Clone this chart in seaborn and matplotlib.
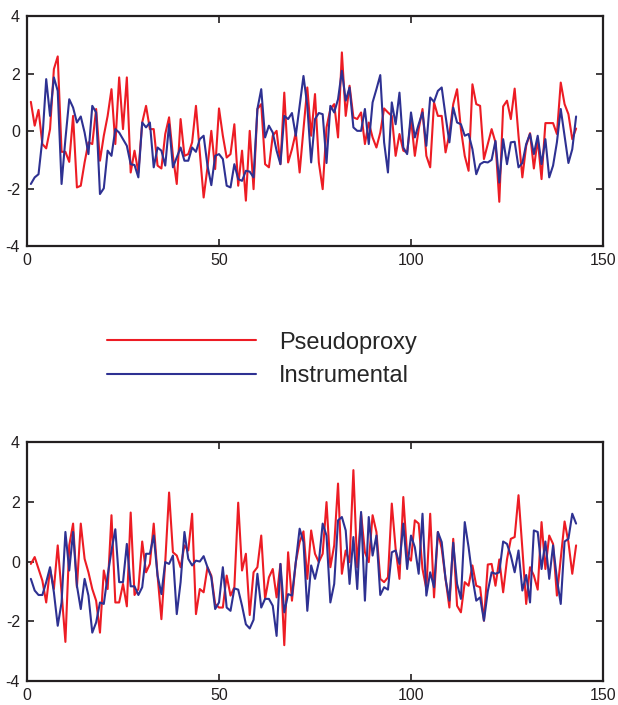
import numpy as np
import pandas as pd
import matplotlib
matplotlib.use('Agg')
import matplotlib.pyplot as plt
import seaborn as sns

# Values (years 1..143)
years = list(range(1, 144))

top_pseudoproxy = [
    1.02, 0.19, 0.74, -0.45, -0.6, 0.07, 2.16, 2.6, -0.72, -0.72,
    -1.07, 0.53, -1.96, -1.9, -1.09, -0.39, -0.45, 0.77, -1.03, -0.16,
    0.53, 1.46, -0.45, 1.87, 0.07, 1.87, -1.44, -0.68, -1.44, 0.3,
    0.88, 0.07, 0.07, -1.2, -1.3, -0.1, 0.48, -0.86, -1.84, 0.42,
    -0.86, -0.8, -0.39, 0.88, -0.74, -2.31, -1.26, 0.01, -1.32, 0.79,
    -0.16, -0.92, -0.8, 0.24, -1.9, -0.68, -2.42, 0.01, -2.02, 0.77,
    0.94, -1.15, -1.26, -0.16, 0.01, -1.15, 1.34, -1.09, -0.63, -0.05,
    -1.44, 0.07, 1.52, -0.16, 1.29, -1.09, -2.02, 0.13, 0.77, 0.94,
    -0.22, 2.74, 0.53, 1.58, 0.48, 0.42, 0.65, -0.45, 0.3, -0.22,
    -0.57, -0.05, 0.79, 0.65, 0.53, -0.86, -0.1, -0.68, -0.74, 0.42,
    -0.86, 0.07, 0.77, -0.86, -1.26, 1.0, 0.53, 0.53, -0.74, -0.1,
    0.94, 1.46, 0.07, -0.86, -1.38, 1.63, 0.94, 0.88, -0.97, -0.45,
    0.07, -0.39, -2.46, 0.86, 1.06, 0.42, 1.48, -0.16, -1.61, -0.51,
    -0.07, -1.3, -0.28, -1.67, 0.28, 0.28, 0.28, -0.1, 1.69, 0.94,
    0.59, -0.28, 0.09]

top_instrumental = [
    -1.84, -1.61, -1.5, -0.28, 1.81, 0.53, 1.87, 1.4, -1.84, -0.28,
    1.11, 0.82, 0.3, 0.51, -0.05, -0.8, 0.88, 0.65, -2.19, -1.99,
    -0.68, -0.86, 0.07, -0.05, -0.28, -0.51, -1.15, -1.18, -1.61, 0.3,
    0.13, 0.3, -1.26, -0.57, -0.68, -1.2, 0.24, -1.26, -0.92, -0.57,
    -1.03, -1.03, -0.57, -0.72, -0.28, -0.16, -1.2, -1.88, -0.86, -0.8,
    -0.97, -1.9, -1.96, -1.15, -1.67, -1.73, -1.38, -1.41, -1.61, 0.77,
    1.46, -0.22, 0.19, -0.05, -0.68, -1.15, 0.53, 0.42, 0.63, -0.16,
    0.88, 1.92, 0.88, -1.09, 0.42, 0.63, 0.59, -1.11, 0.88, 0.65,
    1.11, 2.1, 1.06, 1.52, 0.13, 0.01, 0.01, 0.77, -0.45, 1.0,
    1.46, 1.95, -0.39, -1.44, 1.0, 0.24, 1.34, -0.57, -0.8, 0.65,
    -0.22, 0.24, 0.65, -0.51, 1.17, 1.02, 1.4, 1.52, 0.53, -0.39,
    0.82, 0.3, 0.24, -0.16, -0.1, -0.63, -1.5, -1.15, -1.07, -1.09,
    -1.0, -0.34, -1.79, -0.28, -1.15, -0.39, -0.37, -1.26, -1.11, -0.45,
    -0.1, -0.8, -0.16, -1.15, -0.28, -1.61, -1.2, -0.39, 0.77, -0.16,
    -1.11, -0.63, 0.51]

bottom_pseudoproxy = [
    -0.08, 0.15, -0.25, -0.64, -1.37, -0.25, -0.92, 0.54, -1.03, -2.69,
    0.54, 1.27, -0.86, 1.27, 0.09, -0.36, -0.92, -1.31, -2.38, -0.3,
    -0.92, 1.55, -1.37, -1.37, -0.75, -1.5, 1.64, -1.12, -0.92, 0.67,
    -0.36, -0.08, 1.27, -0.47, -1.93, -0.02, 2.31, 0.31, 0.2, -0.19,
    0.54, 0.37, 1.6, -1.76, -0.92, -1.03, -0.19, -0.47, -1.42, -1.54,
    -1.54, -0.47, -1.14, -0.86, 1.97, -0.3, 0.26, -1.79, -0.36, -0.19,
    0.87, -1.25, -0.53, -0.25, -1.2, -0.08, -2.8, 0.31, -1.31, -0.02,
    0.65, 1.01, -0.58, 1.04, 0.26, -0.02, 0.26, 1.99, -0.19, 0.54,
    2.61, -0.41, 0.37, -0.02, 3.06, -0.19, 1.6, 0.31, -0.02, 1.55,
    0.99, -0.58, -0.69, -0.53, 1.94, 0.43, -0.58, 2.16, 0.2, 0.03,
    1.38, 1.27, -0.25, -0.92, 1.6, -1.2, 0.99, 0.43, -0.58, -1.54,
    0.76, -1.48, -1.7, -0.69, -0.81, -0.13, -0.81, -0.86, -1.98, -0.1,
    -0.08, -0.81, 0.07, -1.03, 0.07, 0.76, 0.82, 2.22, 0.43, -1.42,
    -0.19, -0.47, -0.94, 1.32, -0.25, 0.87, 0.59, -1.14, 0.09, 1.34,
    0.65, -0.41, 0.54]

bottom_instrumental = [
    -0.58, -0.97, -1.12, -1.12, -0.69, -0.19, -1.03, -2.15, -1.37, 0.99,
    -0.3, 0.99, -0.81, -1.59, -0.58, -1.14, -2.38, -2.04, -1.37, -1.42,
    -0.47, 0.37, 1.08, -0.69, -0.69, 0.59, -0.83, -0.83, -1.12, -0.86,
    0.26, 0.26, 0.87, -0.47, -1.09, -0.02, -0.08, 0.2, -1.76, -0.69,
    0.99, 0.09, -0.13, 0.03, 0.0, 0.18, -0.19, -0.53, -1.59, -1.37,
    -0.19, -1.54, -1.65, -0.9, -0.94, -1.48, -2.1, -2.24, -1.95, -0.41,
    -1.54, -1.25, -1.25, -1.48, -2.49, -0.08, -1.7, -1.09, -1.14, -0.02,
    1.1, 0.65, -1.65, -0.13, -0.58, -0.02, 1.27, 0.87, -1.37, -0.75,
    1.38, 1.49, 1.04, -0.75, 0.82, -0.92, 1.66, -1.31, 1.49, 0.2,
    0.87, -1.12, -0.86, -0.94, 0.31, 0.37, -0.08, 1.27, -0.25, 0.87,
    0.48, -0.41, 1.6, -1.14, -0.36, -0.86, 0.99, 0.65, -0.58, -1.31,
    0.63, -0.75, -1.25, 1.32, 0.48, -0.53, -1.31, -1.2, -1.98, -1.0,
    -0.36, -0.41, -0.36, 0.67, 0.59, 0.2, -0.36, 0.37, -0.97, -0.45,
    -1.37, 1.04, 0.99, -0.25, 0.67, -0.58, 0.54, -0.58, -1.42, 0.67,
    0.76, 1.6, 1.27]

series_names = ['Pseudoproxy', 'Instrumental']
colors = {'Pseudoproxy': '#ed1c24', 'Instrumental': '#2e3192'}
x_ticks = [0, 50, 100, 150]
y_ticks = [-4, -2, 0, 2, 4]


def to_long(pseudo, instr):
    return pd.concat([
        pd.DataFrame({'year': years, 'value': pseudo, 'series': 'Pseudoproxy'}),
        pd.DataFrame({'year': years, 'value': instr, 'series': 'Instrumental'}),
    ])


sns.set_style('ticks')
plt.rcParams['font.family'] = ['Liberation Sans', 'DejaVu Sans']
plt.rcParams['axes.unicode_minus'] = False

fig = plt.figure(figsize=(6.18, 7.05), dpi=100)
ax_top = fig.add_axes([0.0437, 0.651, 0.932, 0.326])
ax_bot = fig.add_axes([0.0437, 0.034, 0.932, 0.339])

panels = [(ax_top, to_long(top_pseudoproxy, top_instrumental)),
          (ax_bot, to_long(bottom_pseudoproxy, bottom_instrumental))]

for ax, df in panels:
    sns.lineplot(data=df, x='year', y='value', hue='series',
                 hue_order=series_names, palette=colors,
                 linewidth=1.5, ax=ax, legend=False, sort=False)
    ax.set_xlim(0, 150)
    ax.set_ylim(-4, 4)
    ax.set_xticks(x_ticks)
    ax.set_yticks(y_ticks)
    ax.set_xlabel('')
    ax.set_ylabel('')
    ax.tick_params(direction='in', top=True, right=True, length=5,
                   width=1.2, labelsize=11.5, colors='#231f20', pad=5)
    for sp in ax.spines.values():
        sp.set_visible(True)
        sp.set_linewidth(1.6)
        sp.set_color('#231f20')

# legend sits between the two panels
handles = ax_top.get_lines()[:2]
fig.legend(handles, series_names, loc='center',
           bbox_to_anchor=(0.424, 0.490), frameon=False, fontsize=17,
           handlelength=6.3, handletextpad=1.0, labelspacing=0.5)

fig.savefig('out.png', dpi=100)
